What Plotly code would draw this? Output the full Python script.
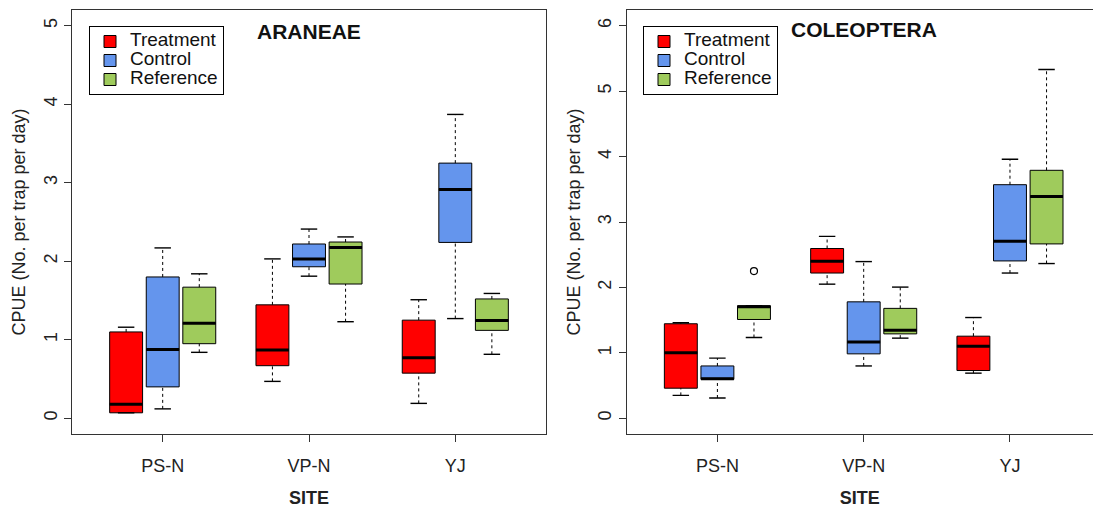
import plotly.graph_objects as go

# ---------------- data ----------------
sites = ["PS-N", "VP-N", "YJ"]
groups = ["Treatment", "Control", "Reference"]
colors = ["#FF0000", "#6495ED", "#9FCB5C"]
site_pos = [2, 6, 10]
group_offset = [-1, 0, 1]

# ARANEAE: rows = Treatment, Control, Reference ; columns = PS-N, VP-N, YJ
ara_low = [[0.07, 0.47, 0.19], [0.12, 1.81, 1.27], [0.84, 1.23, 0.815]]
ara_q1 = [[0.07, 0.67, 0.575], [0.40, 1.93, 2.24], [0.95, 1.71, 1.12]]
ara_med = [[0.18, 0.87, 0.77], [0.875, 2.03, 2.915], [1.21, 2.175, 1.245]]
ara_q3 = [[1.10, 1.445, 1.25], [1.80, 2.22, 3.25], [1.67, 2.245, 1.52]]
ara_high = [[1.16, 2.03, 1.51], [2.17, 2.41, 3.87], [1.84, 2.31, 1.59]]

# COLEOPTERA
col_low = [[0.35, 2.05, 0.69], [0.31, 0.80, 2.22], [1.235, 1.225, 2.365]]
col_q1 = [[0.46, 2.22, 0.73], [0.595, 0.985, 2.405], [1.51, 1.29, 2.665]]
col_med = [[1.00, 2.40, 1.10], [0.605, 1.165, 2.705], [1.705, 1.345, 3.39]]
col_q3 = [[1.445, 2.595, 1.255], [0.80, 1.78, 3.57], [1.72, 1.68, 3.79]]
col_high = [[1.46, 2.78, 1.54], [0.92, 2.395, 3.96], [1.72, 2.005, 5.33]]

# outliers (COLEOPTERA)
col_outlier_group = [2]
col_outlier_site = [0]
col_outlier_value = [2.25]

ara_yticks = [0, 1, 2, 3, 4, 5]
col_yticks = [0, 1, 2, 3, 4, 5, 6]

# ---------------- styling ----------------
W, H = 1093, 508
BOXW = 0.9
CAPW = 0.45
FONT = "Liberation Sans, Arial, sans-serif"
AXC = "#333333"


def px_x(p):
    return p / W


def px_y(p):
    return 1 - p / H


fig = go.Figure()


def add_panel(low, q1, med, q3, high, xa, ya, legend, out_g=(), out_s=(), out_v=()):
    for gi, g in enumerate(groups):
        xs = [sp + group_offset[gi] for sp in site_pos]
        fig.add_trace(go.Box(
            x=xs, q1=q1[gi], median=med[gi], q3=q3[gi],
            lowerfence=q1[gi], upperfence=q3[gi],
            width=BOXW, whiskerwidth=0,
            fillcolor=colors[gi], line=dict(color="black", width=1),
            name='<span style="font-size:19px">%s</span>' % g,
            legend=legend, xaxis=xa, yaxis=ya, hoverinfo="skip",
        ))
        # thick medians
        mx, my = [], []
        for x, m in zip(xs, med[gi]):
            mx += [x - BOXW / 2, x + BOXW / 2, None]
            my += [m, m, None]
        fig.add_trace(go.Scatter(x=mx, y=my, mode="lines",
                                 line=dict(color="black", width=3),
                                 showlegend=False, xaxis=xa, yaxis=ya, hoverinfo="skip"))
        # dashed whiskers
        wx, wy = [], []
        for x, a, b, c, d in zip(xs, low[gi], q1[gi], q3[gi], high[gi]):
            if d > c:
                wx += [x, x, None]
                wy += [c, d, None]
            if a < b:
                wx += [x, x, None]
                wy += [a, b, None]
        fig.add_trace(go.Scatter(x=wx, y=wy, mode="lines",
                                 line=dict(color="black", width=1, dash="3px,3px"),
                                 showlegend=False, xaxis=xa, yaxis=ya, hoverinfo="skip"))
        # staples
        cx, cy = [], []
        for x, a, d in zip(xs, low[gi], high[gi]):
            for v in (a, d):
                cx += [x - CAPW / 2, x + CAPW / 2, None]
                cy += [v, v, None]
        fig.add_trace(go.Scatter(x=cx, y=cy, mode="lines",
                                 line=dict(color="black", width=1.4),
                                 showlegend=False, xaxis=xa, yaxis=ya, hoverinfo="skip"))
    if out_v:
        ox = [site_pos[s] + group_offset[g] for g, s in zip(out_g, out_s)]
        fig.add_trace(go.Scatter(x=ox, y=list(out_v), mode="markers",
                                 marker=dict(symbol="circle-open", size=7, color="black",
                                             line=dict(width=1.2)),
                                 showlegend=False, xaxis=xa, yaxis=ya, hoverinfo="skip"))


add_panel(ara_low, ara_q1, ara_med, ara_q3, ara_high, "x", "y", "legend")
add_panel(col_low, col_q1, col_med, col_q3, col_high, "x2", "y2", "legend2",
          col_outlier_group, col_outlier_site, col_outlier_value)

tickfont = dict(family=FONT, size=18, color="#222")
titlefont = dict(family=FONT, size=18, color="#222")

xcommon = dict(tickvals=site_pos, ticktext=sites, ticks="outside", ticklen=7,
               tickcolor=AXC, showline=True, linecolor=AXC, linewidth=1.3,
               showgrid=False, zeroline=False, tickfont=tickfont, automargin=False,
               ticklabelstandoff=8,
               title=dict(text="<b>SITE</b>", font=titlefont, standoff=17))
ycommon = dict(ticks="outside", ticklen=7, tickcolor=AXC, showline=True,
               linecolor=AXC, linewidth=1.3, showgrid=False, zeroline=False,
               tickfont=tickfont, tickangle=-90, automargin=False,
               title=dict(text="CPUE (No. per trap per day)", font=titlefont, standoff=10))

ydom = [px_y(434), px_y(10)]

fig.update_layout(
    width=W, height=H,
    margin=dict(l=0, r=0, t=0, b=0),
    paper_bgcolor="white", plot_bgcolor="white",
    font=dict(family=FONT, color="#222"),
    xaxis=dict(domain=[px_x(72), px_x(546)], range=[-0.48, 12.48], mirror=True,
               anchor="y", **xcommon),
    yaxis=dict(domain=ydom, range=[-0.2, 5.2], tickvals=ara_yticks, mirror=True,
               anchor="x", **ycommon),
    xaxis2=dict(domain=[px_x(626.7), 1.0], range=[-0.48, 12.27], mirror=True,
                anchor="y2", **xcommon),
    yaxis2=dict(domain=ydom, range=[-0.24, 6.24], tickvals=col_yticks, mirror=False,
                anchor="x2", **ycommon),
    legend=dict(x=px_x(89), y=px_y(26), xanchor="left", yanchor="top",
                bordercolor="black", borderwidth=1, bgcolor="white",
                font=dict(family=FONT, size=12, color="#111"), tracegroupgap=0),
    legend2=dict(x=px_x(643), y=px_y(26), xanchor="left", yanchor="top",
                 bordercolor="black", borderwidth=1, bgcolor="white",
                 font=dict(family=FONT, size=12, color="#111"), tracegroupgap=0),
    showlegend=True,
    annotations=[
        dict(text="<b>ARANEAE</b>", x=px_x(309), y=px_y(31), xref="paper", yref="paper",
             showarrow=False, font=dict(family=FONT, size=21, color="#111"),
             xanchor="center", yanchor="middle"),
        dict(text="<b>COLEOPTERA</b>", x=px_x(863.7), y=px_y(29), xref="paper", yref="paper",
             showarrow=False, font=dict(family=FONT, size=21, color="#111"),
             xanchor="center", yanchor="middle"),
    ],
)

fig.write_html(
    "out.html",
    config={"displayModeBar": False},
    post_script="document.body.style.margin='0px';document.body.style.overflow='hidden';",
)
